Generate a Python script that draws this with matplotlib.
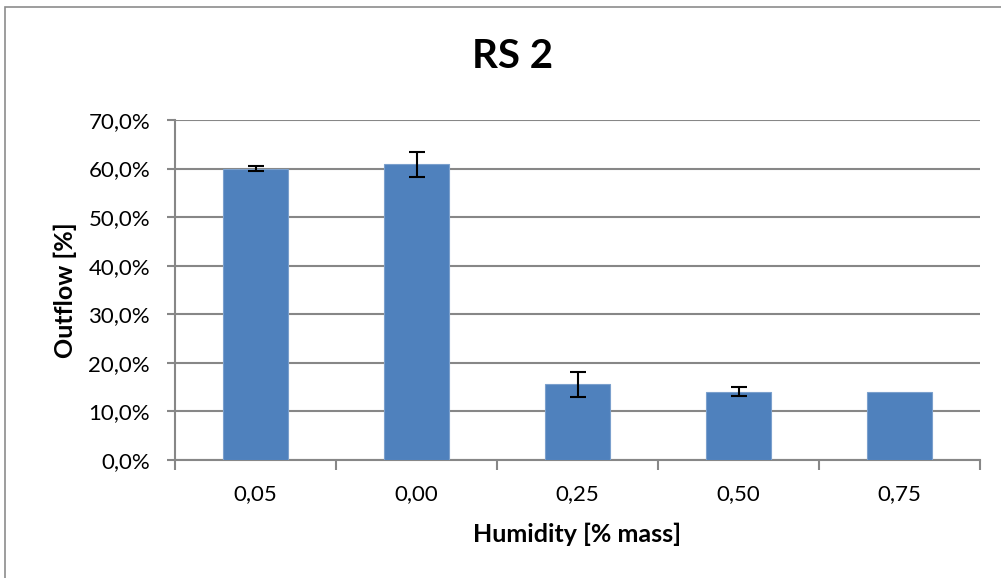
import numpy as np
import matplotlib.pyplot as plt
from matplotlib.patches import Rectangle
from matplotlib.ticker import FuncFormatter, FixedLocator

plt.rcParams['font.family'] = ['Lato', 'DejaVu Sans']

categories = ['0,05', '0,00', '0,25', '0,50', '0,75']
outflow = [60.0, 60.9, 15.6, 14.1, 14.1]
err = [0.6, 2.6, 2.6, 1.0, 0.0]

grid_col = '#878787'
bar_col = '#4f81bd'

fig = plt.figure(figsize=(10.01, 5.78), dpi=100)
ax = fig.add_axes([175 / 1001, 1 - 460 / 578, 805 / 1001, 340 / 578])

x = np.arange(len(categories))
yerr = [e if e > 0 else np.nan for e in err]
ax.bar(x, outflow, width=0.4, color=bar_col, edgecolor='#7ba0cd', linewidth=0.8, zorder=3)
ax.errorbar(x, outflow, yerr=yerr, fmt='none', ecolor='black', elinewidth=1.5,
            capsize=6, capthick=1.5, zorder=4)

ax.set_xlim(-0.5, len(categories) - 0.5)
ax.set_ylim(0, 70)
ax.set_yticks(np.arange(0, 71, 10))
ax.yaxis.set_major_formatter(FuncFormatter(lambda v, p: f'{v:.1f}%'.replace('.', ',')))
ax.grid(axis='y', color=grid_col, linewidth=1.5, zorder=0)

ax.set_xticks(x)
ax.set_xticklabels(categories)
ax.tick_params(axis='x', which='major', length=0, labelsize=16, pad=17)
ax.xaxis.set_minor_locator(FixedLocator(np.arange(-0.5, len(categories), 1)))
ax.tick_params(axis='x', which='minor', length=7, width=1.5, color=grid_col, direction='out')
ax.tick_params(axis='y', length=6, width=1.5, color=grid_col, labelsize=16, pad=12)

for s in ['top', 'right']:
    ax.spines[s].set_visible(False)
for s in ['left', 'bottom']:
    ax.spines[s].set_color(grid_col)
    ax.spines[s].set_linewidth(1.5)

ax.set_xlabel('Humidity [% mass]', fontsize=18, fontweight='bold', labelpad=14)
ax.set_ylabel('Outflow [%]', fontsize=18, fontweight='bold', labelpad=8)
fig.text(0.512, 1 - 57 / 578, 'RS 2', fontsize=29, fontweight='bold', ha='center', va='center')

fig.patches.append(Rectangle((5 / 1001, -0.01), 1.0, 1 - 7 / 578 + 0.01, transform=fig.transFigure,
                             fill=False, edgecolor='#8c8c8c', linewidth=1.2))

fig.savefig('out.png', dpi=100)
